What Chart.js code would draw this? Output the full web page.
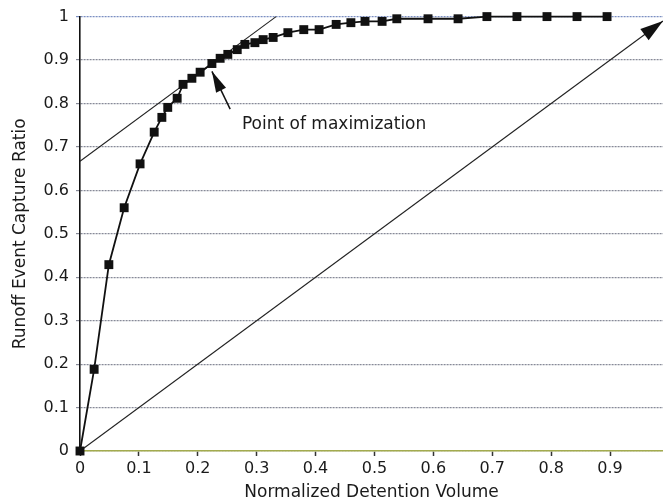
<!DOCTYPE html>
<html><head><meta charset="utf-8">
<script src="https://cdn.jsdelivr.net/npm/chart.js@4/dist/chart.umd.min.js"></script>
<style>html,body{margin:0;padding:0;background:#fff;overflow:hidden;}#wrap{width:663px;height:503px;}</style>
</head><body><div id="wrap"><canvas id="c" width="663" height="503"></canvas></div>
<script>
// ---- data ----
const volume  = [0, 0.024, 0.049, 0.075, 0.102, 0.126, 0.139, 0.149, 0.165, 0.175, 0.190, 0.204, 0.224, 0.238, 0.251, 0.267, 0.280, 0.297, 0.311, 0.328, 0.353, 0.380, 0.406, 0.435, 0.460, 0.484, 0.513, 0.538, 0.591, 0.642, 0.691, 0.742, 0.793, 0.844, 0.895];
const capture = [0, 0.188, 0.429, 0.560, 0.661, 0.734, 0.768, 0.791, 0.812, 0.844, 0.858, 0.872, 0.892, 0.904, 0.913, 0.924, 0.936, 0.940, 0.947, 0.952, 0.963, 0.970, 0.970, 0.982, 0.986, 0.989, 0.989, 0.995, 0.995, 0.995, 1.0, 1.0, 1.0, 1.0, 1.0];
const tangentX  = [0, 0.333];
const tangentY  = [0.667, 1.0];
const diagonalX = [0, 0.99];
const diagonalY = [0, 0.99];
const xTicks = [0, 0.1, 0.2, 0.3, 0.4, 0.5, 0.6, 0.7, 0.8, 0.9];
const yTicks = [0, 0.1, 0.2, 0.3, 0.4, 0.5, 0.6, 0.7, 0.8, 0.9, 1];
const xTitle = "Normalized Detention Volume";
const yTitle = "Runoff Event Capture Ratio";
const noteText = "Point of maximization";
const noteTip  = [0.224, 0.874];
const noteTail = [0.255, 0.787];
const noteAt   = [0.275, 0.741];

const FONT = "'DejaVu Sans', 'Liberation Sans', sans-serif";
const pts = (xs, ys) => xs.map((x, i) => ({x: x, y: ys[i]}));

function arrowHead(ctx, x0, y0, x1, y1, len, half) {
  const a = Math.atan2(y1 - y0, x1 - x0);
  const bx = x1 - len * Math.cos(a), by = y1 - len * Math.sin(a);
  ctx.beginPath();
  ctx.moveTo(x1, y1);
  ctx.lineTo(bx + half * Math.sin(a), by - half * Math.cos(a));
  ctx.lineTo(bx - half * Math.sin(a), by + half * Math.cos(a));
  ctx.closePath();
  ctx.fill();
}

const annot = {
  id: 'annot',
  afterDatasetsDraw(chart) {
    const ctx = chart.ctx, xs = chart.scales.x, ys = chart.scales.y;
    const P = (v) => [xs.getPixelForValue(v[0]), ys.getPixelForValue(v[1])];
    ctx.save();
    ctx.fillStyle = '#111';
    ctx.strokeStyle = '#111';
    // diagonal arrow head
    const d0 = P([diagonalX[0], diagonalY[0]]), d1 = P([diagonalX[1], diagonalY[1]]);
    arrowHead(ctx, d0[0], d0[1], d1[0], d1[1], 23, 7);
    // annotation arrow
    const t = P(noteTip), s = P(noteTail);
    ctx.lineWidth = 1.5;
    ctx.beginPath(); ctx.moveTo(s[0], s[1]); ctx.lineTo(t[0], t[1]); ctx.stroke();
    arrowHead(ctx, s[0], s[1], t[0], t[1], 21, 5.5);
    // label
    const l = P(noteAt);
    ctx.font = '17px ' + FONT;
    ctx.textAlign = 'left';
    ctx.textBaseline = 'alphabetic';
    ctx.fillStyle = '#1a1a1a';
    ctx.fillText(noteText, l[0], l[1]);
    ctx.restore();
  }
};

new Chart(document.getElementById('c'), {
  type: 'line',
  data: {
    datasets: [
      { label: 'capture', data: pts(volume, capture), borderColor: '#111', borderWidth: 1.8,
        pointStyle: 'rect', pointRadius: 6.3, pointBackgroundColor: '#111', pointBorderColor: '#111',
        pointBorderWidth: 0, tension: 0, clip: false },
      { label: 'tangent', data: pts(tangentX, tangentY), borderColor: '#222', borderWidth: 1.1,
        pointRadius: 0, clip: false },
      { label: 'diagonal', data: pts(diagonalX, diagonalY), borderColor: '#222', borderWidth: 1.1,
        pointRadius: 0, clip: false }
    ]
  },
  options: {
    responsive: false, animation: false, devicePixelRatio: 1,
    layout: { autoPadding: false, padding: { top: 15, right: 0, left: 0, bottom: 0 } },
    plugins: { legend: { display: false }, tooltip: { enabled: false } },
    scales: {
      x: {
        type: 'linear', min: 0, max: 0.99,
        afterBuildTicks: (s) => { s.ticks = xTicks.map(v => ({ value: v })); },
        afterFit: (s) => { s.height = 52; },
        ticks: { font: { family: FONT, size: 16 }, color: '#1a1a1a', padding: 3, maxRotation: 0,
                 callback: (v) => String(Math.round(v * 10) / 10) },
        grid: { drawOnChartArea: false, drawTicks: true, tickLength: 5, tickColor: '#333', tickWidth: 1.5 },
        border: { display: true, color: '#a3ab4e', width: 1.6 },
        title: { display: true, text: xTitle, font: { family: FONT, size: 17 }, color: '#1a1a1a',
                 padding: { top: 1, bottom: 0 } }
      },
      y: {
        type: 'linear', min: 0, max: 1,
        afterBuildTicks: (s) => { s.ticks = yTicks.map(v => ({ value: v })); },
        afterFit: (s) => { s.width = 80; },
        ticks: { font: { family: FONT, size: 16 }, color: '#1a1a1a', padding: 7,
                 callback: (v) => String(Math.round(v * 10) / 10) },
        grid: { drawOnChartArea: true, drawTicks: true, tickLength: 4, lineWidth: 1.2,
                color: (c) => c.tick && c.tick.value === 1 ? '#7b8fc2' : '#878a98' },
        border: { display: true, color: '#111', width: 1.6, dash: [2, 1] },
        title: { display: true, text: yTitle, font: { family: FONT, size: 17 }, color: '#1a1a1a',
                 padding: { top: 10, bottom: 0 } }
      }
    }
  },
  plugins: [annot]
});
</script>
</body></html>
